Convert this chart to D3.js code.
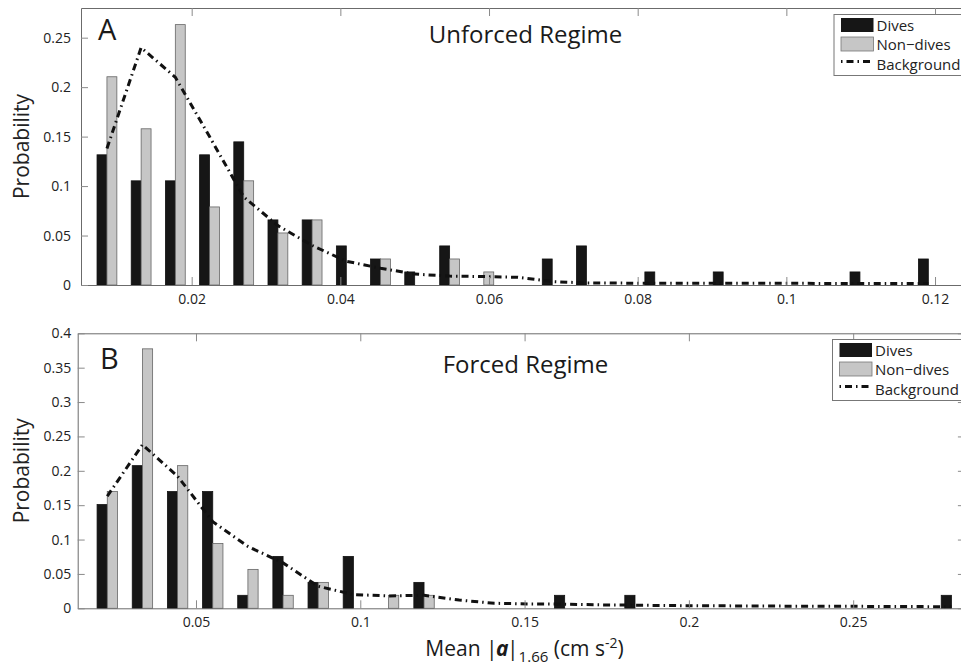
<!DOCTYPE html>
<html>
<head>
<meta charset="utf-8">
<script src="https://cdn.jsdelivr.net/npm/d3@7"></script>
<style>
  body { margin: 0; background: #fff; }
  svg { display: block; font-family: 'Open Sans', sans-serif; }
  .tick text { font-size: 14px; fill: #222; }
</style>
</head>
<body>
<svg id="chart" width="961" height="668"></svg>
<script>

// Panel A - unforced regime
const centersA = [0.0086, 0.0132, 0.0178, 0.0224, 0.0270, 0.0316, 0.0362, 0.0408, 0.0454, 0.0500,
  0.0547, 0.0593, 0.0639, 0.0685, 0.0731, 0.0777, 0.0823, 0.0869, 0.0915, 0.0961,
  0.1007, 0.1053, 0.1099, 0.1145, 0.1191];
const divesA = [0.1316, 0.1053, 0.1053, 0.1316, 0.1447, 0.0658, 0.0658, 0.0395, 0.0263, 0.0132,
  0.0395, 0, 0, 0.0263, 0.0395, 0, 0.0132, 0, 0.0132, 0,
  0, 0, 0.0132, 0, 0.0263];
const nonDivesA = [0.2105, 0.1579, 0.2632, 0.0789, 0.1053, 0.0526, 0.0658, 0, 0.0263, 0,
  0.0263, 0.0132, 0, 0, 0, 0, 0, 0, 0, 0,
  0, 0, 0, 0, 0];
const backgroundA = [0.138, 0.240, 0.210, 0.150, 0.089, 0.060, 0.040, 0.024, 0.017, 0.011,
  0.009, 0.0085, 0.0078, 0.0035, 0.0020, 0.0019, 0.0018, 0.0018, 0.0017, 0.0017,
  0.0017, 0.0016, 0.0016, 0.0016, 0.0015];
const xTicksA = [0.02, 0.04, 0.06, 0.08, 0.1, 0.12];
const yTicksA = [0, 0.05, 0.1, 0.15, 0.2, 0.25];

// Panel B - forced regime
const centersB = [0.0230, 0.0337, 0.0444, 0.0551, 0.0658, 0.0765, 0.0872, 0.0979, 0.1086, 0.1194,
  0.1301, 0.1408, 0.1515, 0.1622, 0.1729, 0.1836, 0.1943, 0.2050, 0.2157, 0.2264,
  0.2371, 0.2478, 0.2585, 0.2692, 0.2799];
const divesB = [0.1509, 0.2075, 0.1698, 0.1698, 0.0189, 0.0755, 0.0377, 0.0755, 0, 0.0377,
  0, 0, 0, 0.0189, 0, 0.0189, 0, 0, 0, 0,
  0, 0, 0, 0, 0.0189];
const nonDivesB = [0.1698, 0.3774, 0.2075, 0.0943, 0.0566, 0.0189, 0.0377, 0, 0.0189, 0.0189,
  0, 0, 0, 0, 0, 0, 0, 0, 0, 0,
  0, 0, 0, 0, 0];
const backgroundB = [0.163, 0.238, 0.192, 0.126, 0.090, 0.066, 0.032, 0.020, 0.018, 0.019,
  0.012, 0.0073, 0.0063, 0.0060, 0.0050, 0.0045, 0.0040, 0.0036, 0.0035, 0.0032,
  0.0030, 0.0029, 0.0027, 0.0025, 0.0022];
const xTicksB = [0.05, 0.1, 0.15, 0.2, 0.25];
const yTicksB = [0, 0.05, 0.1, 0.15, 0.2, 0.25, 0.3, 0.35, 0.4];

const legendLabels = ['Dives', 'Non\u2212dives', 'Background'];

const svg = d3.select('#chart');
const fmt = d3.format('~g');

const makePanel = (p) => {

  let x = d3.scaleLinear().domain(p.xDomain).range([p.left, p.right]);
  let y = d3.scaleLinear().domain(p.yDomain).range([p.bottom, p.top]);

  let g = svg.append('g');

  let step = x(p.centers[1]) - x(p.centers[0]);
  let bw = step * 0.29;

  // dives (black) left of centre, non-dives (gray) right
  g.selectAll('.dive')
    .data(p.centers.map((c, i) => ({ c: c, v: p.dives[i] })).filter(d => d.v > 0))
    .enter().append('rect')
    .attr('x', d => x(d.c) - bw)
    .attr('y', d => y(d.v))
    .attr('width', bw)
    .attr('height', d => y(0) - y(d.v))
    .attr('fill', '#161616')
    .attr('stroke', '#111')
    .attr('stroke-width', 0.8);

  g.selectAll('.nondive')
    .data(p.centers.map((c, i) => ({ c: c, v: p.nonDives[i] })).filter(d => d.v > 0))
    .enter().append('rect')
    .attr('x', d => x(d.c))
    .attr('y', d => y(d.v))
    .attr('width', bw)
    .attr('height', d => y(0) - y(d.v))
    .attr('fill', '#c6c6c6')
    .attr('stroke', '#666')
    .attr('stroke-width', 0.8);

  let line = d3.line()
    .x((d, i) => x(p.centers[i]))
    .y(d => y(d));

  g.append('path')
    .datum(p.background)
    .attr('d', line)
    .attr('fill', 'none')
    .attr('stroke', '#111')
    .attr('stroke-width', 3)
    .attr('stroke-dasharray', '7,4,1.5,4');

  // axes, ticks pointing inward
  g.append('g')
    .attr('transform', 'translate(0,' + p.bottom + ')')
    .call(d3.axisBottom(x).tickValues(p.xTicks).tickFormat(fmt).tickSizeInner(-8).tickSizeOuter(0).tickPadding(9));

  g.append('g')
    .attr('transform', 'translate(0,' + p.top + ')')
    .call(d3.axisTop(x).tickValues(p.xTicks).tickFormat('').tickSizeInner(-8).tickSizeOuter(0));

  g.append('g')
    .attr('transform', 'translate(' + p.left + ',0)')
    .call(d3.axisLeft(y).tickValues(p.yTicks).tickFormat(fmt).tickSizeInner(-7).tickSizeOuter(0).tickPadding(p.yPad));

  g.append('g')
    .attr('transform', 'translate(' + p.right + ',0)')
    .call(d3.axisRight(y).tickValues(p.yTicks).tickFormat('').tickSizeInner(-7).tickSizeOuter(0));

  g.selectAll('.domain').attr('stroke', '#6b6b6b');
  g.selectAll('.tick line').attr('stroke', '#8a8a8a');
  g.selectAll('.tick text').attr('font-family', "'Open Sans', sans-serif");

  g.append('text')
    .text('Probability')
    .attr('transform', 'translate(29,' + ((p.top + p.bottom) / 2) + ') rotate(-90)')
    .attr('text-anchor', 'middle')
    .attr('font-size', 21)
    .attr('fill', '#222');

  g.append('text')
    .text(p.letter)
    .attr('x', p.letterX)
    .attr('y', p.letterY)
    .attr('font-size', 29)
    .attr('fill', '#1a1a1a');

  g.append('text')
    .text(p.title)
    .attr('x', 525.5)
    .attr('y', p.titleY)
    .attr('text-anchor', 'middle')
    .attr('font-size', 24)
    .attr('fill', '#1a1a1a');

  // legend
  let lg = g.append('g').attr('transform', 'translate(' + p.legX + ',' + p.legY + ')');

  lg.append('rect')
    .attr('x', 0).attr('y', 0)
    .attr('width', 140).attr('height', 61)
    .attr('fill', '#fff')
    .attr('stroke', '#777')
    .attr('stroke-width', 1);

  lg.append('rect').attr('x', 7).attr('y', 3.5).attr('width', 32.5).attr('height', 14)
    .attr('fill', '#161616');
  lg.append('rect').attr('x', 7).attr('y', 22.5).attr('width', 32.5).attr('height', 14)
    .attr('fill', '#c6c6c6').attr('stroke', '#777').attr('stroke-width', 0.8);
  lg.append('line').attr('x1', 7).attr('x2', 40).attr('y1', 47).attr('y2', 47)
    .attr('stroke', '#111').attr('stroke-width', 3).attr('stroke-dasharray', '1.5,4,7,4');

  lg.selectAll('.lt')
    .data(legendLabels)
    .enter().append('text')
    .text(d => d)
    .attr('x', 42.5)
    .attr('y', (d, i) => 16 + i * 19.5)
    .attr('font-size', 15)
    .attr('fill', '#222');
}

makePanel({
  centers: centersA, dives: divesA, nonDives: nonDivesA, background: backgroundA,
  xTicks: xTicksA, yTicks: yTicksA,
  xDomain: [0.00511, 0.1255], yDomain: [0, 0.28],
  left: 81, right: 975.9, top: 8, bottom: 285, yPad: 10,
  letter: 'A', letterX: 98, letterY: 40, title: 'Unforced Regime', titleY: 43,
  legX: 834, legY: 14.5
});

makePanel({
  centers: centersB, dives: divesB, nonDives: nonDivesB, background: backgroundB,
  xTicks: xTicksB, yTicks: yTicksB,
  xDomain: [0.014, 0.284], yDomain: [0, 0.4],
  left: 77.7, right: 964.9, top: 333.3, bottom: 608.3, yPad: 6.5,
  letter: 'B', letterX: 100, letterY: 369, title: 'Forced Regime', titleY: 372.5,
  legX: 832.5, legY: 339.5
});

// shared x label
let xl = svg.append('text')
  .attr('x', 524.5)
  .attr('y', 656)
  .attr('text-anchor', 'middle')
  .attr('font-size', 21)
  .attr('fill', '#1a1a1a');

xl.append('tspan').text('Mean |');
xl.append('tspan').text('a').attr('font-weight', 'bold').attr('font-style', 'italic').attr('dx', -1.5);
xl.append('tspan').text('|').attr('dx', -1.5);
xl.append('tspan').text('1.66').attr('font-size', 15).attr('dy', 6);
xl.append('tspan').text(' (cm s').attr('dy', -6);
xl.append('tspan').text('-2').attr('font-size', 14).attr('dy', -8);
xl.append('tspan').text(')').attr('dy', 8);

</script>
</body>
</html>
